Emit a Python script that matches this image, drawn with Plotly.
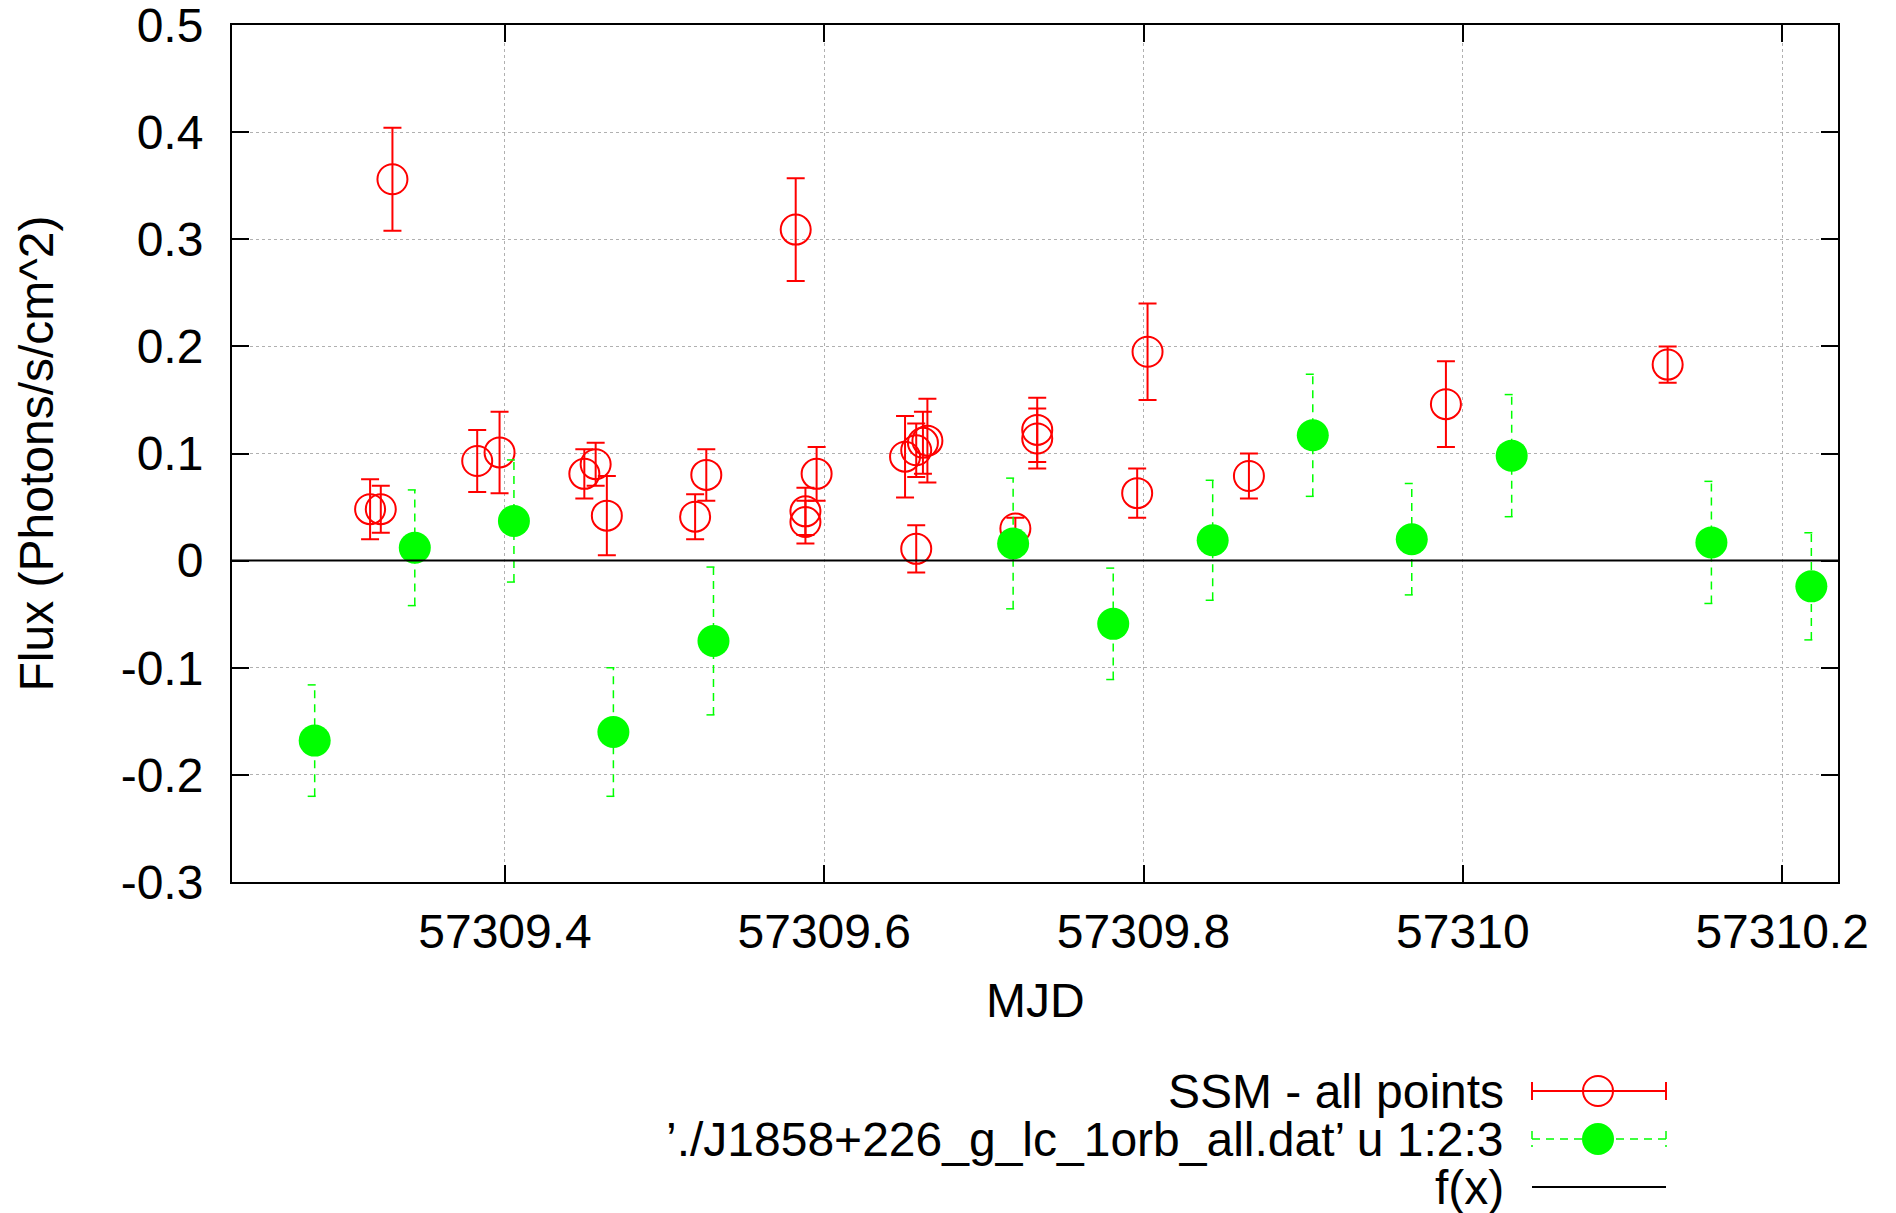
import plotly.graph_objects as go

# ---------------- data ----------------
ssm_mjd = [57309.3295, 57309.3155, 57309.3222, 57309.3826, 57309.3966, 57309.4497,
           57309.4568, 57309.4638, 57309.5191, 57309.5261, 57309.5821, 57309.5882,
           57309.5882, 57309.5952, 57309.6506, 57309.6576, 57309.6576, 57309.6618,
           57309.6646, 57309.7197, 57309.7334, 57309.7334, 57309.7960, 57309.8025,
           57309.8660, 57309.9894, 57310.1283]
ssm_flux = [0.356, 0.048, 0.048, 0.093, 0.101, 0.081,
            0.090, 0.042, 0.041, 0.080, 0.309, 0.046,
            0.036, 0.081, 0.097, 0.011, 0.103, 0.110,
            0.112, 0.030, 0.122, 0.114, 0.063, 0.195,
            0.079, 0.146, 0.183]
ssm_err = [0.048, 0.028, 0.022, 0.029, 0.038, 0.023,
           0.020, 0.037, 0.021, 0.024, 0.048, 0.022,
           0.020, 0.025, 0.038, 0.022, 0.025, 0.029,
           0.039, 0.010, 0.030, 0.028, 0.023, 0.045,
           0.021, 0.040, 0.017]

lat_mjd = [57309.2808, 57309.3435, 57309.4056, 57309.4679, 57309.5306, 57309.7183,
           57309.7810, 57309.8433, 57309.9060, 57309.9680, 57310.0306, 57310.1557,
           57310.2183]
lat_flux = [-0.168, 0.012, 0.037, -0.160, -0.075, 0.016,
            -0.059, 0.019, 0.117, 0.020, 0.098, 0.017,
            -0.024]
lat_err = [0.052, 0.054, 0.057, 0.060, 0.069, 0.061,
           0.052, 0.056, 0.057, 0.052, 0.057, 0.057,
           0.050]

x_range = [57309.229, 57310.235]
y_range = [-0.3, 0.5]
x_ticks = [57309.4, 57309.6, 57309.8, 57310.0, 57310.2]
x_tick_labels = ["57309.4", "57309.6", "57309.8", "57310", "57310.2"]
y_ticks = [-0.3, -0.2, -0.1, 0.0, 0.1, 0.2, 0.3, 0.4, 0.5]
y_tick_labels = ["-0.3", "-0.2", "-0.1", "0", "0.1", "0.2", "0.3", "0.4", "0.5"]

legend_labels = ["SSM - all points",
                 "\u2019./J1858+226_g_lc_1orb_all.dat\u2019 u 1:2:3",
                 "f(x)"]
x_title = "MJD"
y_title = "Flux (Photons/s/cm^2)"


def f(x):
    return 0.0


# ---------------- layout constants ----------------
W, H = 1896, 1213
PL, PR, PT, PB = 232, 1838, 25, 882
FONT = "Liberation Sans, Arial, Helvetica, sans-serif"
FS = 48
RED = "#ff0000"
GREEN = "#00ff00"
EPS = 1e-6


def pxx(px):
    return (px - PL) / (PR - PL)


def pxy(py):
    return (PB - py) / (PB - PT)


# green dashed error bars built from the data
cap_px = 7
x_per_px = (x_range[1] - x_range[0]) / (PR - PL)
cap = cap_px * x_per_px
ex, ey = [], []
for x, y, e in zip(lat_mjd, lat_flux, lat_err):
    ex += [x, x, None, x - cap, x + cap, None, x - cap, x + cap, None]
    ey += [y - e, y + e, None, y + e, y + e, None, y - e, y - e, None]

fx_x = list(x_range)
fx_y = [f(v) for v in fx_x]

fig = go.Figure()
fig.add_trace(go.Scatter(
    x=ssm_mjd, y=ssm_flux, mode="markers", name=legend_labels[0],
    marker=dict(symbol="circle-open", size=30, color=RED, line=dict(width=2, color=RED)),
    error_y=dict(type="data", array=ssm_err, color=RED, thickness=2, width=9),
    showlegend=False))
fig.add_trace(go.Scatter(
    x=ex, y=ey, mode="lines", line=dict(color=GREEN, width=1.5, dash="8px,6px"),
    hoverinfo="skip", showlegend=False))
fig.add_trace(go.Scatter(
    x=lat_mjd, y=lat_flux, mode="markers", name=legend_labels[1],
    marker=dict(symbol="circle", size=32, color=GREEN, line=dict(width=0)),
    showlegend=False))
fig.add_trace(go.Scatter(
    x=fx_x, y=fx_y, mode="lines", name=legend_labels[2],
    line=dict(color="black", width=2), showlegend=False))

axis_common = dict(
    showline=True, linewidth=2, linecolor="black", mirror="ticks",
    ticks="inside", ticklen=17, tickwidth=2, tickcolor="black",
    showgrid=True, gridcolor="#b0b0b0", gridwidth=1, griddash="dot",
    zeroline=False, tickfont=dict(family=FONT, size=FS, color="black"),
    tickmode="array", ticklabeloverflow="allow", automargin=False,
)
fig.update_xaxes(range=[x_range[0], x_range[1]], tickvals=x_ticks, ticktext=x_tick_labels,
                 ticklabelstandoff=6, **axis_common)
fig.update_yaxes(range=[y_range[0] - EPS, y_range[1] + EPS], tickvals=y_ticks,
                 ticktext=y_tick_labels, ticklabelstandoff=17, **axis_common)

annotations = [
    dict(text=x_title, x=0.5, y=pxy(1001), xref="paper", yref="paper",
         xanchor="center", yanchor="middle", showarrow=False,
         font=dict(family=FONT, size=FS, color="black")),
    dict(text=y_title, x=pxx(36), y=0.5, xref="paper", yref="paper",
         xanchor="center", yanchor="middle", textangle=-90, showarrow=False,
         font=dict(family=FONT, size=FS, color="black")),
]

rows_y = [1091, 1139, 1187]
text_right = 1506
s0, s1, smid = 1532, 1666, 1598
for lab, ry in zip(legend_labels, rows_y):
    annotations.append(dict(text=lab, x=pxx(text_right), y=pxy(ry), xref="paper", yref="paper",
                            xanchor="right", yanchor="middle", showarrow=False,
                            font=dict(family=FONT, size=FS, color="black")))

shapes = []
# red sample
r = rows_y[0]
shapes.append(dict(type="line", xref="paper", yref="paper", x0=pxx(s0), x1=pxx(s1),
                   y0=pxy(r), y1=pxy(r), line=dict(color=RED, width=2)))
for sx in (s0, s1):
    shapes.append(dict(type="line", xref="paper", yref="paper", x0=pxx(sx), x1=pxx(sx),
                       y0=pxy(r - 9), y1=pxy(r + 9), line=dict(color=RED, width=2)))
shapes.append(dict(type="circle", xref="paper", yref="paper",
                   xsizemode="pixel", ysizemode="pixel",
                   xanchor=pxx(smid), yanchor=pxy(r), x0=-15, x1=15, y0=-15, y1=15,
                   line=dict(color=RED, width=2), fillcolor="rgba(0,0,0,0)"))
# green sample
g = rows_y[1]
shapes.append(dict(type="line", xref="paper", yref="paper", x0=pxx(s0), x1=pxx(s1),
                   y0=pxy(g), y1=pxy(g), line=dict(color=GREEN, width=1.5, dash="8px,6px")))
for sx in (s0, s1):
    shapes.append(dict(type="line", xref="paper", yref="paper", x0=pxx(sx), x1=pxx(sx),
                       y0=pxy(g - 8), y1=pxy(g + 8), line=dict(color=GREEN, width=1.5, dash="8px,6px")))
shapes.append(dict(type="circle", xref="paper", yref="paper",
                   xsizemode="pixel", ysizemode="pixel",
                   xanchor=pxx(smid), yanchor=pxy(g), x0=-16, x1=16, y0=-16, y1=16,
                   line=dict(width=0), fillcolor=GREEN))
# black sample
b = rows_y[2]
shapes.append(dict(type="line", xref="paper", yref="paper", x0=pxx(s0), x1=pxx(s1),
                   y0=pxy(b), y1=pxy(b), line=dict(color="black", width=2)))

fig.update_layout(
    width=W, height=H, autosize=False,
    margin=dict(l=PL, r=W - PR, t=PT, b=H - PB, pad=0, autoexpand=False),
    paper_bgcolor="white", plot_bgcolor="white",
    showlegend=False,
    annotations=annotations, shapes=shapes,
    font=dict(family=FONT, size=FS, color="black"),
)

fig.write_html("out.html")
